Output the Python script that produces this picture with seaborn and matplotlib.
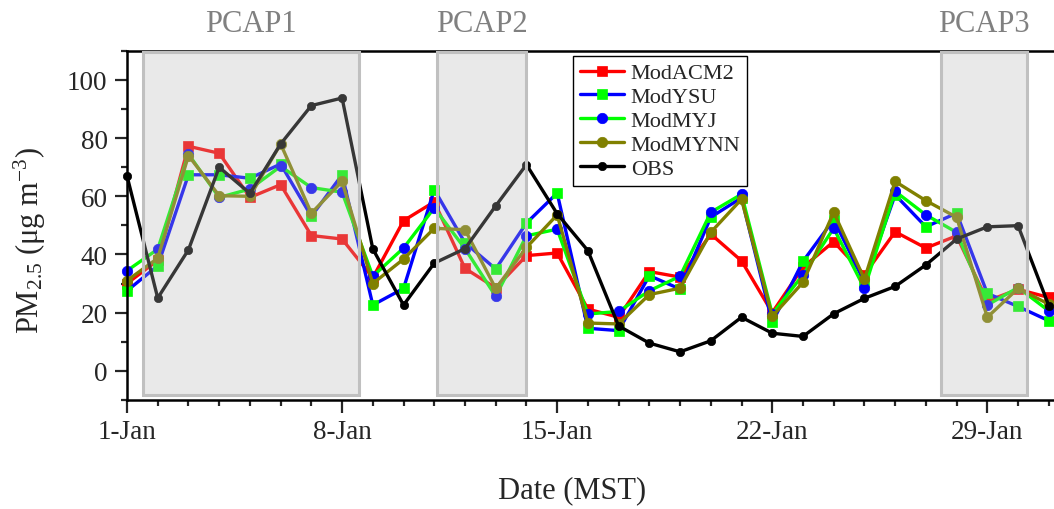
import matplotlib
matplotlib.use('Agg')
import matplotlib.pyplot as plt
import seaborn as sns
from matplotlib.patches import Rectangle
from matplotlib.ticker import FixedLocator, MultipleLocator

# daily values, 1-Jan .. 31-Jan
days = list(range(1, 32))
tick_days = [1, 8, 15, 22, 29]
tick_labels = ['1-Jan', '8-Jan', '15-Jan', '22-Jan', '29-Jan']

mod_acm2 = [30, 38, 77.2, 74.8, 59.6, 64, 46.5, 45.3, 32, 51.6, 58.1, 35.2, 28.5, 39.6, 40.5, 21.2,
            18.4, 34.1, 32.2, 47, 37.8, 20, 35.6, 44.4, 33, 47.8, 42.2, 46.4, 24, 28, 25.2]
mod_ysu = [27.5, 36.1, 67.4, 67.4, 66.2, 71.1, 53.1, 67.4, 22.6, 28.3, 62.3, 44, 35, 50.8, 61.1, 14.6,
           13.8, 32.7, 28.1, 52.8, 59.5, 16.6, 37.6, 52, 30.5, 60.5, 49.5, 54.2, 26.6, 22.1, 17.2]
mod_myj = [34.4, 41.8, 74.5, 59.6, 62.5, 70.3, 63, 61.4, 32.5, 42.2, 56, 42, 25.6, 46.4, 48.7, 19.5,
           20.4, 27.5, 32.5, 54.5, 60.7, 19.5, 33, 49, 28.3, 61.7, 53.6, 47.6, 22.6, 28.6, 20.6]
mod_mynn = [31, 38.7, 74, 60.2, 60, 78, 54.2, 65.1, 30, 38.4, 49, 48.5, 28.3, 42.4, 53.6, 16.4,
            16.1, 26.2, 28.4, 47.6, 59, 18.7, 30.4, 54.5, 31.5, 65.1, 58.5, 52.8, 18.4, 28.3, 22.9]
obs = [67, 25, 41.6, 70, 61, 78, 91.2, 93.8, 41.9, 22.6, 37, 42, 56.7, 70.9, 54, 41.3,
       15.4, 9.5, 6.5, 10.3, 18.4, 12.9, 11.8, 19.6, 24.9, 29, 36.4, 45.3, 49.5, 49.9, 22.4]

pcap_names = ['PCAP1', 'PCAP2', 'PCAP3']
pcap_start = [1.52, 11.08, 27.5]
pcap_end = [8.54, 14.0, 30.3]

sns.set_style('ticks')
plt.rcParams['font.family'] = ['Liberation Serif', 'DejaVu Serif']
plt.rcParams['mathtext.fontset'] = 'custom'
plt.rcParams['mathtext.rm'] = 'Liberation Serif'
plt.rcParams['mathtext.it'] = 'Liberation Serif:italic'

fig = plt.figure(figsize=(10.54, 5.10), dpi=100)
ax = fig.add_axes([0.1205, 0.2141, 0.8795, 0.6841])

series = [
    ('ModACM2', mod_acm2, '#ff0000', 's', '#ff0000', 7),
    ('ModYSU', mod_ysu, '#0000ff', 's', '#00ff00', 7),
    ('ModMYJ', mod_myj, '#00ff00', 'o', '#0000ff', 7.5),
    ('ModMYNN', mod_mynn, '#808000', 'o', '#808000', 7.5),
    ('OBS', obs, '#000000', 'o', '#000000', 6),
]
for name, vals, lc, mk, mc, ms in series:
    sns.lineplot(x=days, y=vals, ax=ax, color=lc, marker=mk, markersize=ms,
                 markerfacecolor=mc, markeredgecolor=mc, markeredgewidth=0.5,
                 linewidth=2.4, label=name, clip_on=False)

for name, s, e in zip(pcap_names, pcap_start, pcap_end):
    ax.add_patch(Rectangle((s, -8.4), e - s, 118, facecolor=(0.72, 0.72, 0.72, 0.3),
                           edgecolor='#c0c0c0', linewidth=2.2, zorder=3))
    ax.text((s + e) / 2, 116.9, name, ha='center', va='baseline', fontsize=22,
            color='#808080', clip_on=False)

ax.set_xlim(1, 31.17)
ax.set_ylim(-10, 110)
ax.xaxis.set_major_locator(FixedLocator(tick_days))
ax.set_xticklabels(tick_labels)
ax.xaxis.set_minor_locator(MultipleLocator(1))
ax.yaxis.set_major_locator(MultipleLocator(20))
ax.yaxis.set_minor_locator(MultipleLocator(10))
ax.tick_params(which='major', length=9, width=1.6, labelsize=19.5, pad=5)
ax.tick_params(which='minor', length=4.5, width=1.6)
ax.tick_params(axis='x', which='both', top=False)
ax.tick_params(axis='y', which='both', right=False)

for side in ['left', 'bottom', 'top']:
    ax.spines[side].set_linewidth(1.8)
    ax.spines[side].set_color('black')
ax.spines['right'].set_visible(False)

ax.set_xlabel('Date (MST)', fontsize=22)
ax.xaxis.set_label_coords(0.48, -0.215)
ax.set_ylabel(r'PM$_{\mathregular{2.5}}$ (μg m$^{\mathregular{-3}}$)', fontsize=22)
ax.yaxis.set_label_coords(-0.085, 0.46)

leg = ax.legend(loc='upper left', bbox_to_anchor=(0.481, 0.985), borderaxespad=0,
                fontsize=16, handlelength=2.0, handletextpad=0.3, labelspacing=0.15,
                borderpad=0.3, fancybox=False, framealpha=1, edgecolor='black')
leg.get_frame().set_linewidth(1.0)
leg.set_zorder(10)

fig.savefig('out.png', dpi=100)
